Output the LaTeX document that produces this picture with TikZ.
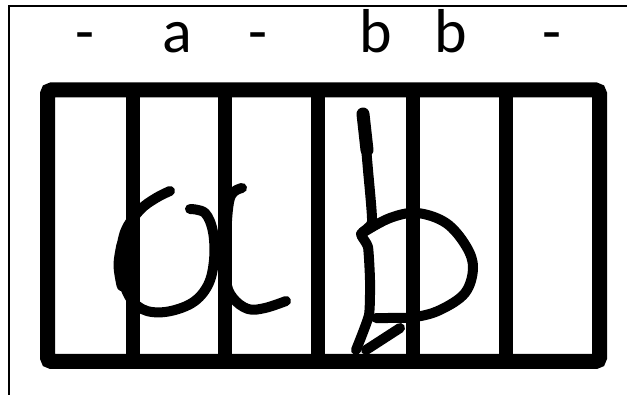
\documentclass[tikz,border=0pt]{standalone}
\usepackage{fontspec}
\setmainfont{Carlito}
\begin{document}
\begin{tikzpicture}[x=1pt,y=-1pt,
  lbl/.style={anchor=base,inner sep=0pt,font=\fontsize{62}{62}\selectfont},
  frameline/.style={line width=2pt},
  boxline/.style={line width=15pt,rounded corners=4pt},
  divline/.style={line width=14pt},
  ink/.style={line width=10pt,line cap=round,line join=round}]
\useasboundingbox (0,0) rectangle (627,395);
% outer frame lines
\draw[frameline] (627,6) -- (9,6) -- (9,395);
% labels
\node[lbl] (l1) at (85,53) {-};
\node[lbl] (l2) at (177,53) {a};
\node[lbl] (l3) at (258,53) {-};
\node[lbl] (l4) at (375.5,53) {b};
\node[lbl] (l5) at (450.5,53) {b};
\node[lbl] (l6) at (552,53) {-};
% box
\draw[boxline] (47.5,90) rectangle (599.5,361.5);
\foreach \xx in {132.5,224.5,317.5,412.5,505.5}
  \draw[divline] (\xx,90) -- (\xx,361.5);
% handwritten a
\draw[ink] plot[smooth,tension=0.6] coordinates {(190,209) (205,213) (213,232) (214,260) (208,285) (192,303) (165,312) (142,309) (127,292) (121,262) (125,232) (140,210) (156,198) (170,191)};
\draw[ink,line width=13pt] plot[smooth,tension=0.6] coordinates {(123,245) (120,265) (123,285)};
\draw[ink] plot[smooth,tension=0.6] coordinates {(242,188) (230,198) (226,240) (226,280) (233,298) (248,309) (265,308) (286,301)};
% handwritten b
\draw[ink,line width=13pt] (363,114) -- (367,150);
\draw[ink] plot[smooth,tension=0.3] coordinates {(363,114) (368,170) (372,222) (361,234) (368,247) (370,280) (369,315) (356,350)};
\draw[ink] plot[smooth,tension=0.6] coordinates {(364,232) (390,218) (417,213) (446,223) (466,246) (473,268) (465,293) (440,310) (415,317) (388,318) (376,318)};
\draw[ink] (366,350) -- (400,328);
\end{tikzpicture}
\end{document}
